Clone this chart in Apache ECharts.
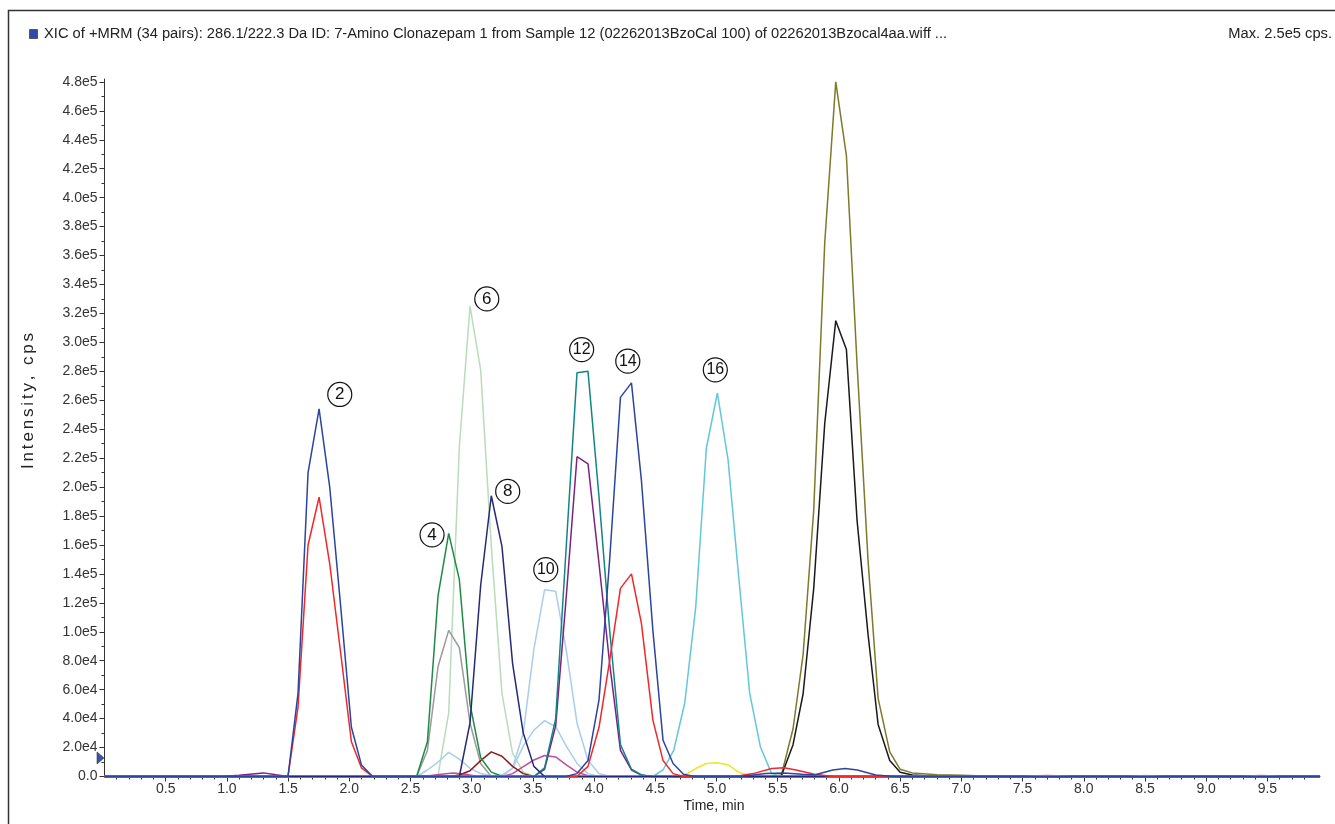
<!DOCTYPE html>
<html>
<head>
<meta charset="utf-8">
<title>XIC of +MRM</title>
<script src="https://cdn.jsdelivr.net/npm/echarts@6/dist/echarts.min.js"></script>
<style>
  html, body { margin: 0; padding: 0; background: #fff; }
  #chart { width: 1335px; height: 824px; }
</style>
</head>
<body>
<div id="chart"></div>
<script>
// axis ticks
const xTickValues = [0.5, 1.0, 1.5, 2.0, 2.5, 3.0, 3.5, 4.0, 4.5, 5.0, 5.5, 6.0, 6.5, 7.0, 7.5, 8.0, 8.5, 9.0, 9.5];
const yTickValues = [0, 20000, 40000, 60000, 80000, 100000, 120000, 140000, 160000, 180000, 200000, 220000,
  240000, 260000, 280000, 300000, 320000, 340000, 360000, 380000, 400000, 420000, 440000, 460000, 480000];
const yTickText = ['0.0', '2.0e4', '4.0e4', '6.0e4', '8.0e4', '1.0e5', '1.2e5', '1.4e5', '1.6e5', '1.8e5', '2.0e5', '2.2e5',
  '2.4e5', '2.6e5', '2.8e5', '3.0e5', '3.2e5', '3.4e5', '3.6e5', '3.8e5', '4.0e5', '4.2e5', '4.4e5', '4.6e5', '4.8e5'];

// traces: [time (min), intensity (cps)]
const traceBlue = [[0, 0], [1.499, 0], [1.581, 57500], [1.663, 210000], [1.753, 254000], [1.840, 200000], [1.93, 117000],
  [2.017, 34000], [2.099, 8000], [2.19, 0], [3.77, 0], [3.86, 2000], [3.95, 11000], [4.04, 53000], [4.127, 150000],
  [4.215, 262000], [4.305, 272000], [4.386, 205000], [4.48, 101000], [4.563, 25000], [4.645, 9000], [4.73, 1500],
  [4.82, 0], [5.2, 0], [5.4, 2000], [5.55, 2500], [5.7, 1500], [5.8, 1000], [5.95, 4500], [6.05, 5500], [6.15, 4500],
  [6.3, 1000], [6.45, 0], [9.93, 0]];
const traceRed = [[0, 0], [1.499, 0], [1.581, 48000], [1.663, 160000], [1.753, 193000], [1.840, 147000], [1.93, 85000],
  [2.017, 24000], [2.099, 6000], [2.19, 0], [3.86, 0], [3.95, 7000], [4.04, 34000], [4.127, 80000], [4.215, 130000],
  [4.305, 140000], [4.386, 106000], [4.48, 39000], [4.563, 11000], [4.645, 2000], [4.73, 0], [5.15, 0], [5.3, 2000],
  [5.45, 5500], [5.55, 6000], [5.65, 4500], [5.8, 1500], [5.95, 0], [9.93, 0]];
const traceGreen = [[0, 0], [2.55, 0], [2.638, 24000], [2.725, 125000], [2.812, 168000], [2.899, 136000], [2.986, 50000],
  [3.073, 13000], [3.16, 3000], [3.25, 0], [9.93, 0]];
const traceGray = [[0, 0], [2.55, 0], [2.638, 18000], [2.725, 76000], [2.812, 101000], [2.899, 89000], [2.986, 37000],
  [3.073, 9000], [3.16, 0], [9.93, 0]];
const traceLightGreen = [[0, 0], [2.64, 0], [2.725, 1000], [2.812, 44000], [2.899, 228000], [2.986, 325000], [3.073, 281000],
  [3.16, 159000], [3.247, 57500], [3.334, 16000], [3.421, 3000], [3.51, 0], [9.93, 0]];
const traceNavy = [[0, 0], [2.899, 0], [2.986, 37000], [3.073, 132000], [3.16, 194000], [3.247, 159000], [3.334, 78000],
  [3.421, 30000], [3.508, 7000], [3.595, 0], [9.93, 0]];
const traceDarkRed = [[0, 0], [2.812, 0], [2.899, 1000], [2.986, 4000], [3.073, 11000], [3.16, 17000], [3.247, 14000],
  [3.334, 7000], [3.421, 2000], [3.508, 0], [9.93, 0]];
const traceLightBlueSmall = [[0, 0], [2.55, 0], [2.638, 4500], [2.725, 10000], [2.812, 16700], [2.899, 12000], [2.986, 5700],
  [3.073, 2000], [3.16, 500], [3.247, 1000], [3.334, 5600], [3.421, 21000], [3.508, 32000], [3.595, 38600], [3.686, 34400],
  [3.773, 21000], [3.86, 9000], [3.95, 2000], [4.04, 0], [9.93, 0]];
const traceLightBlue = [[0, 0], [3.247, 0], [3.334, 6000], [3.421, 30000], [3.508, 88000], [3.595, 129000], [3.686, 128000],
  [3.773, 87000], [3.86, 37000], [3.95, 11000], [4.04, 2000], [4.13, 0], [9.93, 0]];
const traceMagenta = [[0, 0], [2.6, 0], [2.75, 1500], [2.85, 2500], [2.95, 1500], [3.05, 0], [3.247, 0], [3.334, 2000],
  [3.421, 6800], [3.508, 11400], [3.595, 14500], [3.686, 13500], [3.773, 8000], [3.86, 3000], [3.95, 500], [4.04, 0], [9.93, 0]];
const traceTeal = [[0, 0], [3.508, 0], [3.595, 6000], [3.686, 40000], [3.773, 160000], [3.86, 279000], [3.95, 280000],
  [4.04, 193000], [4.127, 101000], [4.215, 22000], [4.305, 5000], [4.39, 1000], [4.48, 0], [9.93, 0]];
const tracePurple = [[0, 0], [0.95, 0], [1.1, 800], [1.3, 2500], [1.4, 1200], [1.499, 0], [3.508, 0], [3.595, 5000],
  [3.686, 35000], [3.773, 125000], [3.86, 221000], [3.95, 216000], [4.04, 147000], [4.127, 78000], [4.215, 18000],
  [4.305, 4500], [4.39, 800], [4.48, 0], [9.93, 0]];
const traceCyan = [[0, 0], [4.48, 0], [4.563, 4500], [4.65, 18000], [4.74, 50600], [4.83, 117000], [4.917, 227000],
  [5.007, 265000], [5.094, 219000], [5.18, 139000], [5.271, 57500], [5.358, 20600], [5.45, 2000], [5.54, 0], [9.93, 0]];
const traceYellow = [[0, 0], [4.65, 0], [4.74, 1000], [4.83, 5500], [4.917, 9000], [5.007, 9500], [5.094, 8000],
  [5.18, 3000], [5.27, 500], [5.36, 0], [9.93, 0]];
const traceOlive = [[0, 0], [5.45, 0], [5.53, 1000], [5.625, 33000], [5.707, 84000], [5.794, 184000], [5.884, 369000],
  [5.974, 480000], [6.061, 429000], [6.148, 285000], [6.238, 149000], [6.32, 54000], [6.415, 17000], [6.5, 5000],
  [6.6, 2500], [6.8, 1200], [7.0, 800], [7.3, 0], [9.93, 0]];
const traceBlack = [[0, 0], [5.45, 0], [5.53, 500], [5.625, 22000], [5.707, 57000], [5.794, 130000], [5.884, 244000],
  [5.974, 315000], [6.061, 295000], [6.148, 177000], [6.238, 98000], [6.32, 36000], [6.415, 11000], [6.5, 3000],
  [6.6, 1000], [6.8, 0], [9.93, 0]];
const tracePink = [[0, 0], [7.5, 0], [7.7, 800], [7.9, 0], [8.35, 0], [8.5, 700], [8.65, 0], [9.3, 0], [9.45, 800], [9.6, 0], [9.93, 0]];

// circled peak numbers: [text, time, intensity]
const peakLabels = [['2', 1.922, 264000], ['4', 2.676, 167000], ['6', 3.123, 330000], ['8', 3.294, 197000],
  ['10', 3.605, 143000], ['12', 3.898, 295000], ['14', 4.275, 287000], ['16', 4.99, 281000], ['18', 6.113, 483000]];

const X_MAX = 9.93;
const Y_MAX = 482000;
const FONT = '"Liberation Sans", Arial, sans-serif';
const SP = '\u2006'; // six-per-em space, widens the axis title like the original

// minor ticks: 0.1 min on x, half step on y
const xMinor = [];
for (let i = 1; i < Math.round(X_MAX * 10); i++) {
  if (i % 5 !== 0) xMinor.push(i / 10);
}
const yMinor = [];
for (let i = 0; i < yTickValues.length - 1; i++) {
  yMinor.push((yTickValues[i] + yTickValues[i + 1]) / 2);
}

const chart = echarts.init(document.getElementById('chart'));

function line(name, data, color, width) {
  return {
    name: name,
    type: 'line',
    data: data,
    symbol: 'none',
    smooth: false,
    clip: false,
    lineStyle: { color: color, width: width || 1.5 },
    itemStyle: { color: color },
    emphasis: { disabled: true },
    silent: true
  };
}

const blueSeries = line('blue', traceBlue, '#2c45a0');
blueSeries.markPoint = {
  silent: true,
  animation: false,
  data: peakLabels.map(p => ({
    coord: [p[1], p[2]],
    symbol: 'circle',
    symbolSize: 24,
    itemStyle: { color: '#fff', borderColor: '#111', borderWidth: 1.2 },
    label: {
      show: true,
      formatter: p[0],
      color: '#111',
      fontSize: p[0].length > 1 ? 16 : 17,
      fontFamily: FONT,
      position: 'inside'
    }
  })).concat([{
    coord: [0, 12800],
    symbol: 'triangle',
    symbolSize: [12, 7],
    symbolRotate: -90,
    symbolOffset: [-4, 0],
    itemStyle: { color: '#3a56ac', borderColor: '#223', borderWidth: 0.5 },
    label: { show: false }
  }])
};

const option = {
  animation: false,
  backgroundColor: '#fff',
  grid: {
    left: 104.5,
    right: 15,
    top: 79,
    bottom: 47.5,
    outerBoundsMode: 'none'
  },
  xAxis: [{
    type: 'value',
    min: 0,
    max: X_MAX,
    position: 'bottom',
    splitLine: { show: false },
    axisLine: { show: true, onZero: false, lineStyle: { color: '#333', width: 1 } },
    axisTick: { show: true, customValues: xTickValues, length: 5, lineStyle: { color: '#333' } },
    axisLabel: {
      customValues: xTickValues,
      formatter: v => v.toFixed(1),
      color: '#333',
      fontSize: 14,
      fontFamily: FONT,
      margin: 6
    }
  }, {
    type: 'value',
    min: 0,
    max: X_MAX,
    position: 'bottom',
    splitLine: { show: false },
    axisLine: { show: false },
    axisTick: { show: true, customValues: xMinor, length: 3, lineStyle: { color: '#333' } },
    axisLabel: { show: false }
  }],
  yAxis: [{
    type: 'value',
    min: 0,
    max: Y_MAX,
    position: 'left',
    splitLine: { show: false },
    axisLine: { show: true, onZero: false, lineStyle: { color: '#333', width: 1 } },
    axisTick: { show: true, customValues: yTickValues, length: 5, lineStyle: { color: '#333' } },
    axisLabel: {
      customValues: yTickValues,
      formatter: v => yTickText[yTickValues.indexOf(v)],
      color: '#333',
      fontSize: 14,
      fontFamily: FONT,
      margin: 7
    }
  }, {
    type: 'value',
    min: 0,
    max: Y_MAX,
    position: 'left',
    splitLine: { show: false },
    axisLine: { show: false },
    axisTick: { show: true, customValues: yMinor, length: 3, lineStyle: { color: '#333' } },
    axisLabel: { show: false }
  }],
  graphic: [
    {
      type: 'rect',
      shape: { x: 8.5, y: 10.5, width: 1400, height: 900 },
      style: { fill: 'none', stroke: '#333', lineWidth: 1.5 },
      silent: true
    },
    {
      type: 'rect',
      shape: { x: 29.5, y: 29.5, width: 8, height: 9 },
      style: { fill: '#2f4aa8', stroke: '#222', lineWidth: 0.6 },
      silent: true
    },
    {
      type: 'text',
      x: 44, y: 34,
      style: {
        text: 'XIC of +MRM (34 pairs): 286.1/222.3 Da ID: 7-Amino Clonazepam 1 from Sample 12 (02262013BzoCal 100) of 02262013Bzocal4aa.wiff ...',
        fill: '#222', font: '14.7px ' + FONT, align: 'left', verticalAlign: 'middle'
      },
      silent: true
    },
    {
      type: 'text',
      x: 1332, y: 34,
      style: { text: 'Max. 2.5e5 cps.', fill: '#222', font: '14.7px ' + FONT, align: 'right', verticalAlign: 'middle' },
      silent: true
    },
    {
      type: 'text',
      x: 28, y: 401,
      rotation: Math.PI / 2,
      style: {
        text: 'Intensity,'.split('').join(SP) + SP + ' ' + SP + 'cps'.split('').join(SP),
        fill: '#222', font: '17px ' + FONT, align: 'center', verticalAlign: 'middle'
      },
      silent: true
    },
    {
      type: 'text',
      x: 714, y: 806,
      style: { text: 'Time, min', fill: '#222', font: '14px ' + FONT, align: 'center', verticalAlign: 'middle' },
      silent: true
    }
  ],
  series: [
    line('olive', traceOlive, '#7d7a2a'),
    line('black', traceBlack, '#1a1a1a'),
    line('lightgreen', traceLightGreen, '#b9dcbb'),
    line('gray', traceGray, '#9a9a9a'),
    line('lightblue small', traceLightBlueSmall, '#a9cdee'),
    line('lightblue', traceLightBlue, '#a9cdee'),
    line('magenta', traceMagenta, '#b84fa5'),
    line('darkred', traceDarkRed, '#8c1c1c'),
    line('green', traceGreen, '#1f8a46'),
    line('yellow', traceYellow, '#eee622'),
    line('cyan', traceCyan, '#62c8d9'),
    line('purple', tracePurple, '#7c2380'),
    line('teal', traceTeal, '#138587'),
    line('pink', tracePink, '#e8b4c4'),
    line('navy', traceNavy, '#25297a'),
    line('red', traceRed, '#f0282a'),
    blueSeries
  ]
};

chart.setOption(option);
window.addEventListener('resize', () => chart.resize());
</script>
</body>
</html>
